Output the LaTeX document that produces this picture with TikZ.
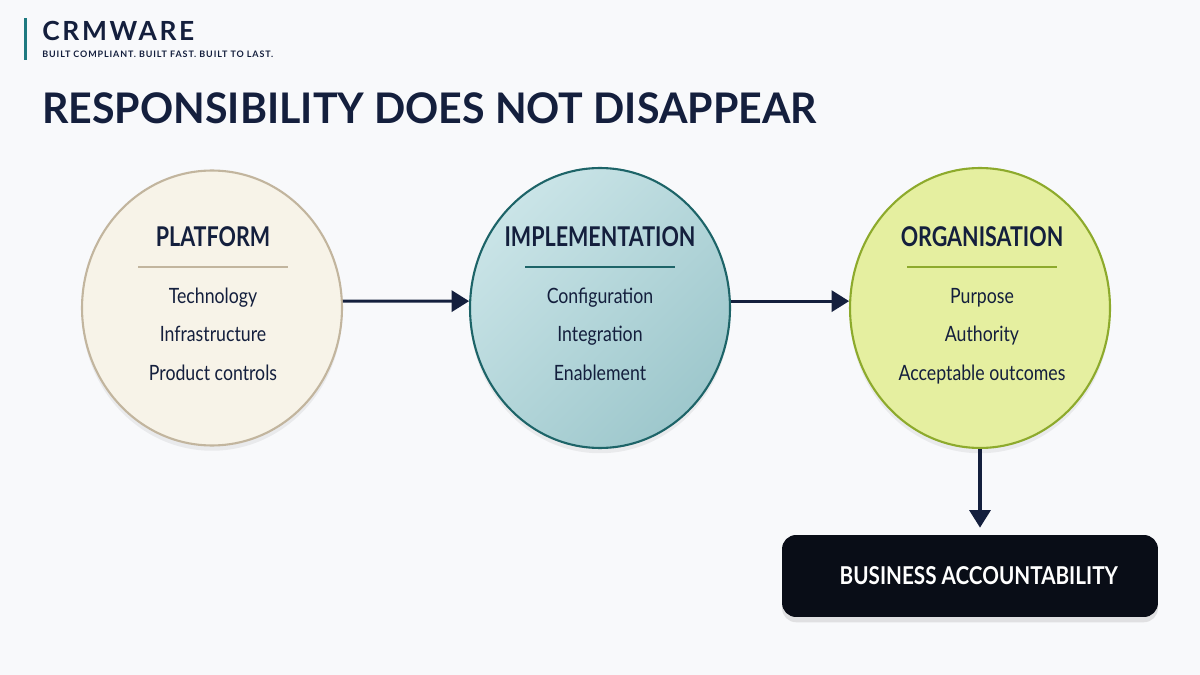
\documentclass[tikz,border=0pt]{standalone}
\usepackage{fontspec}
\setmainfont{Lato}
\newfontfamily\spaced[LetterSpace=10]{Lato}
\newfontfamily\narrow[FakeStretch=0.84]{Lato}
\newfontfamily\headfont[FakeStretch=0.79]{Lato}
\newfontfamily\titlefont[FakeStretch=0.975]{Lato}
\usetikzlibrary{arrows.meta,shapes.geometric,shadows}
\definecolor{navy}{HTML}{141F3D}
\definecolor{pagebg}{HTML}{F8F9FB}
\definecolor{brandteal}{HTML}{1E7A80}
\definecolor{platfill}{HTML}{F7F3E8}
\definecolor{platline}{HTML}{C2B59E}
\definecolor{implfill}{HTML}{A6D2D7}
\definecolor{implline}{HTML}{1D6468}
\definecolor{orgfill}{HTML}{E5EFA0}
\definecolor{orgline}{HTML}{8DAA2C}
\definecolor{boxfill}{HTML}{090D17}
\begin{document}
\begin{tikzpicture}[x=0.02cm,y=-0.02cm,>={Triangle[length=10pt,width=12pt]},line join=round,
	stage/.style={ellipse,draw,line width=1.2pt,minimum width=5.2cm,minimum height=5.5cm,
		drop shadow={opacity=0.12,shadow xshift=0pt,shadow yshift=-3pt}},
	head/.style={navy,font=\headfont\fontsize{15.5}{15.5}\selectfont\bfseries},
	item/.style={navy,font=\narrow\fontsize{12}{12}\selectfont},
	flow/.style={->,navy,line width=1.8pt}]
	\fill[pagebg] (0,0) rectangle (1200,675);
	% brand
	\fill[brandteal] (24,18) rectangle (27,60);
	\node[anchor=base west,inner sep=0,navy,font=\spaced\fontsize{15}{15}\selectfont\bfseries] (brand) at (42,41) {CRMWARE};
	\node[anchor=base west,inner sep=0,navy,font=\spaced\fontsize{5.1}{6}\selectfont\bfseries] (tagline) at (42,58) {BUILT COMPLIANT. BUILT FAST. BUILT TO LAST.};
	\node[anchor=base west,inner sep=0,navy,font=\titlefont\fontsize{24}{24}\selectfont\bfseries] (title) at (42,124) {RESPONSIBILITY DOES NOT DISAPPEAR};
	% stages
	\node[stage,fill=platfill,draw=platline] (plat) at (212,308) {};
	\node[stage,left color=implfill!60!white,right color=implfill!95!black,shading angle=45,draw=implline,minimum height=5.6cm] (impl) at (600,308) {};
	\node[stage,fill=orgfill,draw=orgline,minimum height=5.6cm] (org) at (980,308) {};
	\foreach \n/\x/\h/\c/\a/\b/\d in {plat/213/PLATFORM/platline/Technology/Infrastructure/Product controls,
		impl/600/IMPLEMENTATION/implline/Configuration/Integration/Enablement,
		org/982/ORGANISATION/orgline/Purpose/Authority/Acceptable outcomes}{
		\node[head,anchor=base] (\n-head) at (\x,247) {\h};
		\draw[\c,line width=0.8pt] (\x-75,267) -- (\x+75,267);
		\node[item,anchor=base] (\n-a) at (\x,304) {\a};
		\node[item,anchor=base] (\n-b) at (\x,342) {\b};
		\node[item,anchor=base] (\n-c) at (\x,380) {\d};
	}
	% result
	\node[rounded corners=8pt,fill=boxfill,minimum width=7.52cm,minimum height=1.64cm,
		drop shadow={opacity=0.2,shadow xshift=0pt,shadow yshift=-3pt},
		text=white,font=\narrow\fontsize{14}{14}\selectfont\bfseries] (acct) at (970,576) {\hspace*{10pt}BUSINESS ACCOUNTABILITY};
	\draw[flow] (plat.3) -- (impl.177);
	\draw[flow] (impl.3) -- (org.177);
	\draw[flow,shorten >=4pt] (org.south) -- (org.south |- acct.north);
\end{tikzpicture}
\end{document}
